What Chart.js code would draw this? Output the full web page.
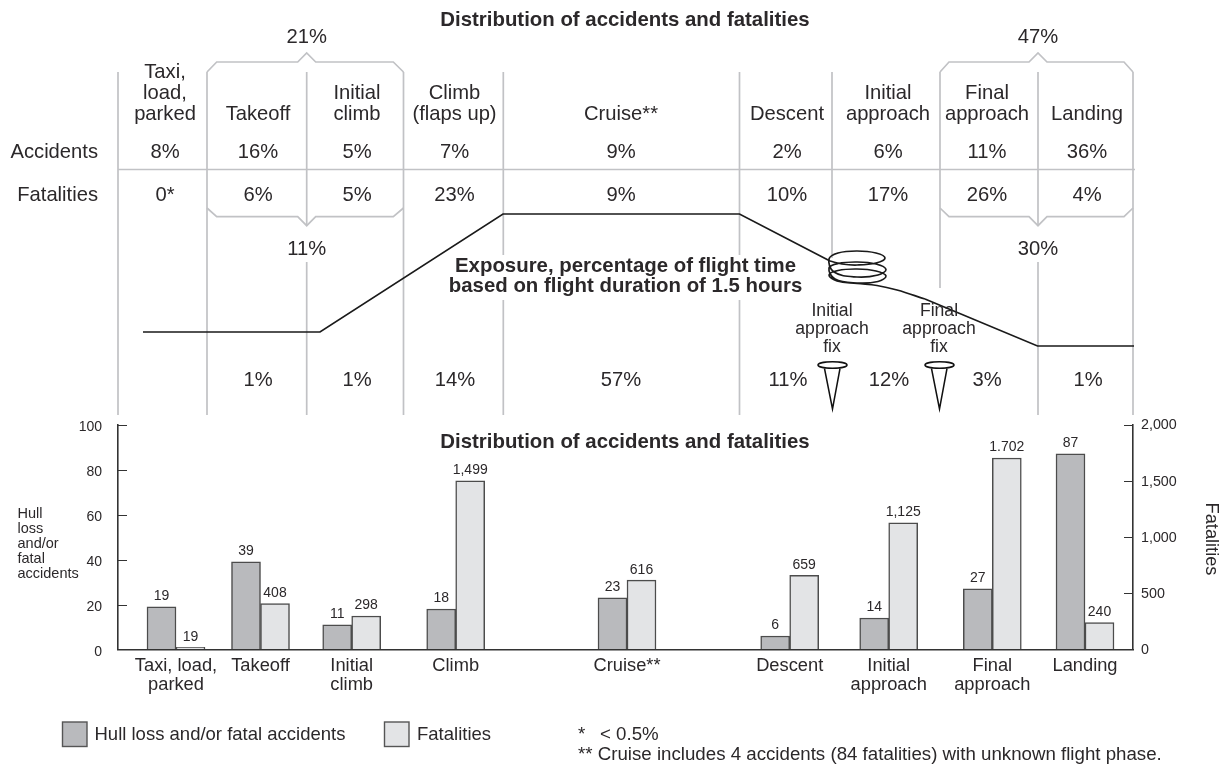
<!DOCTYPE html>
<html>
<head>
<meta charset="utf-8">
<script src="https://cdn.jsdelivr.net/npm/chart.js@4"></script>
<style>
html,body{margin:0;padding:0;background:#fff;width:1227px;height:764px;overflow:hidden}
canvas{position:absolute;left:0}
#top{top:0}
#bot{top:400px}
</style>
</head>
<body>
<canvas id="top" width="1227" height="420"></canvas>
<canvas id="bot" width="1227" height="364"></canvas>
<script>
// ---- data: distribution table ----
const phaseHeads = [["Taxi,","load,","parked"],["Takeoff"],["Initial","climb"],["Climb","(flaps up)"],["Cruise**"],["Descent"],["Initial","approach"],["Final","approach"],["Landing"]];
const accidentShares = ["8%","16%","5%","7%","9%","2%","6%","11%","36%"];
const fatalityShares = ["0*","6%","5%","23%","9%","10%","17%","26%","4%"];
const exposureShares = ["","1%","1%","14%","57%","11%","12%","3%","1%"];
// ---- data: bar chart ----
const barCategories = [["Taxi, load,","parked"],["Takeoff"],["Initial","climb"],["Climb"],["Cruise**"],["Descent"],["Initial","approach"],["Final","approach"],["Landing"]];
const hullLossAccidents = [19,39,11,18,23,6,14,27,87];
const fatalities = [19,408,298,1499,616,659,1125,1702,240];
const fatalityLabels = ["19","408","298","1,499","616","659","1,125","1.702","240"];
const leftTicks = [0,20,40,60,80,100];
const rightTicks = [0,500,1000,1500,2000];
// ---- layout along the flight axis ----
const barCentres = [176,260.5,351.7,455.7,627,789.7,888.7,992.3,1085];
const headCentres = [165,258,357,454.5,621,787,888,987,1087];
const exposureCentres = [165,258,357,455,621,788,889,987,1088];
const separators = [[118,72,415],[207,72,415],[306.7,72,225],[306.7,262,415],[403.5,72,415],[503.3,72,255],[503.3,300,415],[739.5,72,255],[739.5,300,415],[832,72,258],[940,72,288],[1038,72,225],[1038,262,415],[1133,72,415]];
const rowRule = [[118,169.5],[1135,169.5]];
const bracketTopLeft = [[207,72],[216.7,62],[297.7,62],[306.7,53],[315.7,62],[393.3,62],[403.5,72]];
const bracketBottomLeft = [[207,208],[216.7,216.7],[297.7,216.7],[306.7,225.7],[315.7,216.7],[393.3,216.7],[403.5,208]];
const bracketTopRight = [[940,72],[949,62],[1029,62],[1038,53],[1047,62],[1124,62],[1133,72]];
const bracketBottomRight = [[940,208],[949,216.7],[1029,216.7],[1038,225.7],[1047,216.7],[1124,216.7],[1133,208]];
const profileClimb = [[143,332],[320,332],[503,214],[739.5,214],[830,261]];
const profileCoil = [[830,261],[842,264],[857,265],[876,263],[885,258],[876,253],[857,251],[838,253],[829,259],[834,272],[857,277],[878,275],[886,269.5],[876,264],[857,262],[838,263.5],[829,268],[835,279],[857,283],[878,281.5],[886,276],[876,271],[857,269],[838,270.5],[829,275],[837,281],[857,283.5],[877,285.5],[897,290],[925,299]];
const profileDescent = [[925,299],[1037.5,346],[1134,346]];

const INK = "#2b282a", GREY = "#c1c2c5", FONT = "'Liberation Sans'";

function pts(a){return a.map(p=>({x:p[0],y:p[1]}));}
function sepPts(){const o=[];separators.forEach(s=>{o.push({x:s[0],y:s[1]},{x:s[0],y:s[2]},{x:s[0],y:null});});return o;}
function lineDs(data,color,width,extra){return Object.assign({type:"scatter",data,showLine:true,borderColor:color,backgroundColor:color,borderWidth:width,pointRadius:0,tension:0,fill:false},extra||{});}

function txt(ctx,s,x,y,size,opt){
  opt=opt||{};
  ctx.save();
  ctx.font=(opt.bold?"bold ":"")+size+"px "+FONT;
  ctx.fillStyle=opt.color||INK;
  ctx.textAlign=opt.align||"center";
  ctx.textBaseline="middle";
  ctx.fillText(s,x,y+1);
  ctx.restore();
}

const topPlugin = {
  id:"topText",
  afterDatasetsDraw(chart){
    const c=chart.ctx,X=v=>chart.scales.x.getPixelForValue(v),Y=v=>chart.scales.y.getPixelForValue(v);
    const S=20.2;
    txt(c,"Distribution of accidents and fatalities",X(625),Y(19),20.4,{bold:true});
    [["21%",306.7,36],["47%",1038,36],["11%",306.7,248],["30%",1038,248]].forEach(t=>txt(c,t[0],X(t[1]),Y(t[2]),S));
    phaseHeads.forEach((lines,i)=>{
      lines.forEach((l,j)=>txt(c,l,X(headCentres[i]),Y(113-(lines.length-1-j)*20.7),S));
      txt(c,accidentShares[i],X(headCentres[i]),Y(151.5),S);
      txt(c,fatalityShares[i],X(headCentres[i]),Y(194),S);
      if(exposureShares[i]) txt(c,exposureShares[i],X(exposureCentres[i]),Y(379),S);
    });
    txt(c,"Accidents",X(98),Y(151),S,{align:"right"});
    txt(c,"Fatalities",X(98),Y(194),S,{align:"right"});
    txt(c,"Exposure, percentage of flight time",X(625.5),Y(265),20.4,{bold:true});
    txt(c,"based on flight duration of 1.5 hours",X(625.5),Y(285.5),20.4,{bold:true});
    [[832,["Initial","approach","fix"]],[939,["Final","approach","fix"]]].forEach(f=>{
      f[1].forEach((l,j)=>txt(c,l,X(f[0]),Y(310+j*18.3),17.6));
      // pin
      c.save();
      c.strokeStyle="#111";c.lineWidth=1.5;
      c.beginPath();c.ellipse(X(f[0]+.5),Y(365),14.5,3.2,0,0,Math.PI*2);c.stroke();
      c.beginPath();c.moveTo(X(f[0]-7.5),Y(368.5));c.lineTo(X(f[0]+.5),Y(409));c.lineTo(X(f[0]+8),Y(368.5));c.stroke();
      c.restore();
    });
  }
};

new Chart(document.getElementById("top"),{
  type:"scatter",
  data:{datasets:[
    lineDs(pts(profileClimb),"#1a1a1a",1.7),
    lineDs(pts(profileCoil),"#1a1a1a",1.7,{tension:0.4}),
    lineDs(pts(profileDescent),"#1a1a1a",1.7),
    lineDs(sepPts(),GREY,1.7),
    lineDs(pts(rowRule),GREY,1.7),
    lineDs(pts(bracketTopLeft),GREY,1.7),
    lineDs(pts(bracketBottomLeft),GREY,1.7),
    lineDs(pts(bracketTopRight),GREY,1.7),
    lineDs(pts(bracketBottomRight),GREY,1.7)
  ]},
  options:{
    responsive:false,animation:false,devicePixelRatio:1,
    layout:{padding:0},
    plugins:{legend:{display:false},tooltip:{enabled:false},title:{display:false}},
    scales:{
      x:{type:"linear",min:0,max:1227,display:false},
      y:{type:"linear",min:0,max:420,reverse:true,display:false}
    }
  },
  plugins:[topPlugin]
});

const botPlugin = {
  id:"botText",
  afterDatasetsDraw(chart){
    const c=chart.ctx,off=400;
    // inner ticks
    c.save();c.strokeStyle="#333";c.lineWidth=1;
    const xl=chart.chartArea.left,xr=chart.chartArea.right;
    leftTicks.forEach(v=>{if(!v)return;const y=Math.round(chart.scales.y.getPixelForValue(v))+.5;c.beginPath();c.moveTo(xl,y);c.lineTo(xl+9,y);c.stroke();});
    rightTicks.forEach(v=>{if(!v)return;const y=Math.round(chart.scales.y2.getPixelForValue(v))+.5;c.beginPath();c.moveTo(xr,y);c.lineTo(xr-9,y);c.stroke();});
    c.restore();
    // value labels
    chart.getDatasetMeta(0).data.forEach((b,i)=>txt(c,String(hullLossAccidents[i]),b.x,b.y-11.5,14));
    chart.getDatasetMeta(1).data.forEach((b,i)=>txt(c,fatalityLabels[i],b.x,b.y-11.5,14));
    txt(c,"Distribution of accidents and fatalities",625,441-off,20.4,{bold:true});
    ["Hull","loss","and/or","fatal","accidents"].forEach((l,j)=>txt(c,l,17.5,512.5-off+j*15,14.5,{align:"left"}));
    c.save();
    c.translate(1211.5,539-off);c.rotate(Math.PI/2);
    txt(c,"Fatalities",0,-1,18.2);
    c.restore();
    // legend
    [[62.5,94.5,0],[384.5,417,1]].forEach(L=>{
      const ds=chart.data.datasets[L[2]];
      c.save();c.fillStyle=ds.backgroundColor;c.strokeStyle="#555";c.lineWidth=1.4;
      c.fillRect(L[0],722-off,24.5,24.5);c.strokeRect(L[0],722-off,24.5,24.5);c.restore();
      txt(c,ds.label,L[1],734-off,18.5,{align:"left"});
    });
    txt(c,"*",578,734-off,18.7,{align:"left"});
    txt(c,"< 0.5%",600,734-off,18.7,{align:"left"});
    txt(c,"** Cruise includes 4 accidents (84 fatalities) with unknown flight phase.",578,753.5-off,18.7,{align:"left"});
  }
};

function barData(vals){return barCentres.map((x,i)=>({x,y:vals[i]}));}

new Chart(document.getElementById("bot"),{
  type:"bar",
  data:{datasets:[
    {label:"Hull loss and/or fatal accidents",data:barData(hullLossAccidents),yAxisID:"y",backgroundColor:"#b9babd",borderColor:"#4c4c4c",borderWidth:1.5,barThickness:29},
    {label:"Fatalities",data:barData(fatalities),yAxisID:"y2",backgroundColor:"#e3e4e6",borderColor:"#4c4c4c",borderWidth:1.5,barThickness:29}
  ]},
  options:{
    responsive:false,animation:false,devicePixelRatio:1,
    layout:{padding:{top:24.5,left:0,right:0,bottom:0}},
    plugins:{legend:{display:false},tooltip:{enabled:false},title:{display:false}},
    scales:{
      x:{type:"linear",min:118,max:1133,offset:false,
        afterBuildTicks(s){s.ticks=barCentres.map(v=>({value:v}));},
        afterFit(s){s.height=114.5;s.paddingLeft=0;s.paddingRight=0;},
        ticks:{autoSkip:false,maxRotation:0,minRotation:0,padding:7,color:INK,
          font:{family:FONT,size:18.3,lineHeight:1.05},
          callback(v){return barCategories[barCentres.indexOf(v)];}},
        grid:{display:true,drawOnChartArea:false,drawTicks:false},
        border:{display:true,color:"#333",width:1.6}},
      y:{type:"linear",position:"left",min:0,max:100,
        afterBuildTicks(s){s.ticks=leftTicks.map(v=>({value:v}));},
        afterFit(s){s.width=118;s.paddingTop=0;s.paddingBottom=0;},
        ticks:{padding:16,labelOffset:2.5,color:INK,font:{family:FONT,size:14}},
        grid:{display:true,drawOnChartArea:false,drawTicks:false},
        border:{display:true,color:"#333",width:1.6}},
      y2:{type:"linear",position:"right",min:0,max:2000,
        afterBuildTicks(s){s.ticks=rightTicks.map(v=>({value:v}));},
        afterFit(s){s.width=94;s.paddingTop=0;s.paddingBottom=0;},
        ticks:{padding:8,labelOffset:1,color:INK,font:{family:FONT,size:14.3},
          callback(v){return v.toLocaleString("en-US");}},
        grid:{display:true,drawOnChartArea:false,drawTicks:false},
        border:{display:true,color:"#333",width:1.6}}
    }
  },
  plugins:[botPlugin]
});
</script>
</body>
</html>
